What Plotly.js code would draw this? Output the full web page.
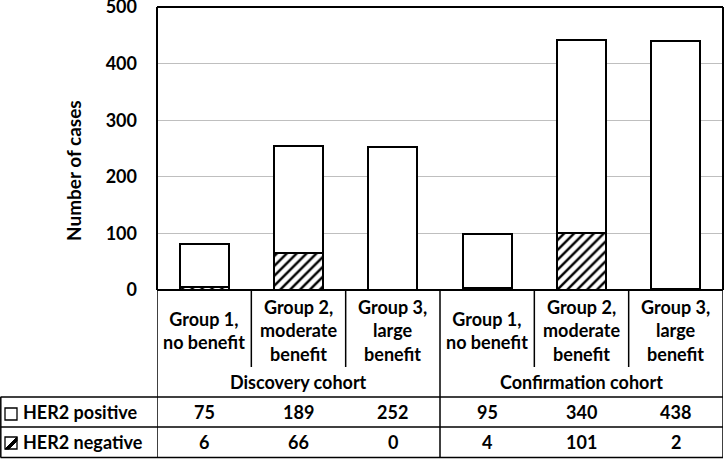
<!DOCTYPE html>
<html>
<head>
<meta charset="utf-8">
<script src="https://cdn.plot.ly/plotly-3.0.1.min.js"></script>
<style>html,body{margin:0;padding:0;background:#fff;}#chart{width:726px;height:459px;}</style>
</head>
<body>
<div id="chart"></div>
<script>
var categories = ["Group 1,<br>no benefit", "Group 2,<br>moderate<br>benefit", "Group 3,<br>large<br>benefit",
                  "Group 1,<br>no benefit", "Group 2,<br>moderate<br>benefit", "Group 3,<br>large<br>benefit"];
var cohorts = ["Discovery cohort", "Confirmation cohort"];
var her2Positive = [75, 189, 252, 95, 340, 438];
var her2Negative = [6, 66, 0, 4, 101, 2];
var seriesNames = ["HER2 positive", "HER2 negative"];
var yTicks = [0, 100, 200, 300, 400, 500];
var yTitle = "Number of cases";

var W = 726, H = 459, L = 157, R = 3, T = 7, B = 169;
var PW = W - L - R, PH = H - T - B;
function px(p) { return (p - L) / PW; }
function py(p) { return (H - B - p) / PH; }

var FONT = "Lato, 'Open Sans', sans-serif";
var idx = categories.map(function (c, i) { return i; });

var traces = [
  {
    type: "bar", name: seriesNames[1], x: idx, y: her2Negative, width: 0.52,
    marker: { color: "white", line: { color: "black", width: 2 },
      pattern: { shape: "/", fgcolor: "black", bgcolor: "white", size: 7, solidity: 0.35 } },
    hoverinfo: "y"
  },
  {
    type: "bar", name: seriesNames[0], x: idx, y: her2Positive, width: 0.52,
    marker: { color: "white", line: { color: "black", width: 2 } },
    hoverinfo: "y"
  }
];

var shapes = [];
function line(x0, y0, x1, y1, xref, w) {
  shapes.push({ type: "line", xref: xref || "paper", yref: "paper", x0: x0, x1: x1, y0: y0, y1: y1,
    line: { color: "black", width: w || 1.5 } });
}
// frame of plot
line(0, 0, 0, 1, "paper", 2); line(0, 1, 1, 1, "paper", 2); line(1, 1, 1, 0, "paper", 2);
// category separators
[0.5, 1.5, 3.5, 4.5].forEach(function (v) { line(v, py(290), v, py(367), "x", 1.5); });
// cohort separators
[-0.5, 2.5, 5.5].forEach(function (v) { line(v, py(290), v, py(457.5), "x", 1.5); });
// horizontal lines
line(0, py(290), 1, py(290), "paper", 2);
[397, 427, 457.5].forEach(function (p) { line(px(0.5), py(p), 1, py(p), "paper", 1.5); });
line(px(0.8), py(397), px(0.8), py(457.5), "paper", 1.5);
// legend icons
shapes.push({ type: "rect", xref: "paper", yref: "paper", x0: px(5), x1: px(17), y0: py(408), y1: py(420),
  line: { color: "black", width: 1.3 }, fillcolor: "white" });
shapes.push({ type: "rect", xref: "paper", yref: "paper", x0: px(5), x1: px(17), y0: py(437), y1: py(449),
  line: { color: "black", width: 1.3 }, fillcolor: "white" });
shapes.push({ type: "path", xref: "paper", yref: "paper",
  path: "M " + px(5) + " " + py(449) + " L " + px(17) + " " + py(437) + " L " + px(17) + " " + py(441) +
        " L " + px(9) + " " + py(449) + " Z",
  line: { color: "black", width: 1 }, fillcolor: "black" });

var annotations = [];
var tf = { family: FONT, size: 18, color: "black", weight: "bold" };
categories.forEach(function (c, i) {
  annotations.push({ x: i, xref: "x", y: py(330), yref: "paper", text: c, showarrow: false,
    font: tf, align: "center", yanchor: "middle" });
  annotations.push({ x: i, xref: "x", y: py(412), yref: "paper", text: String(her2Positive[i]), showarrow: false,
    font: tf, yanchor: "middle" });
  annotations.push({ x: i, xref: "x", y: py(442), yref: "paper", text: String(her2Negative[i]), showarrow: false,
    font: tf, yanchor: "middle" });
});
annotations.push({ x: 1, xref: "x", y: py(382), yref: "paper", text: cohorts[0], showarrow: false, font: tf, yanchor: "middle" });
annotations.push({ x: 4, xref: "x", y: py(382), yref: "paper", text: cohorts[1], showarrow: false, font: tf, yanchor: "middle" });
annotations.push({ x: px(21), xref: "paper", xanchor: "left", y: py(412), yref: "paper", text: seriesNames[0], showarrow: false, font: tf, yanchor: "middle" });
annotations.push({ x: px(21), xref: "paper", xanchor: "left", y: py(442), yref: "paper", text: seriesNames[1], showarrow: false, font: tf, yanchor: "middle" });
annotations.push({ x: px(73), xref: "paper", y: py(171), yref: "paper", text: yTitle, textangle: -90, showarrow: false,
  font: { family: FONT, size: 19, color: "black", weight: "bold" }, xanchor: "center", yanchor: "middle" });

var layout = {
  width: W, height: H,
  margin: { l: L, r: R, t: T, b: B, pad: 0 },
  paper_bgcolor: "white", plot_bgcolor: "white",
  barmode: "stack", showlegend: false,
  font: { family: FONT, size: 18, color: "black" },
  xaxis: { range: [-0.5, 5.5], showticklabels: false, showgrid: false, zeroline: false, showline: false, fixedrange: true },
  yaxis: {
    range: [0, 500], tickvals: yTicks, ticktext: yTicks.map(String),
    showgrid: true, gridcolor: "#bfbfbf", gridwidth: 1.3, zeroline: false, showline: false,
    ticks: "", ticklabelstandoff: 19, ticklabeloverflow: "allow",
    tickfont: { family: FONT, size: 18, color: "black", weight: "bold" },
    automargin: false
  },
  shapes: shapes,
  annotations: annotations
};

Plotly.newPlot("chart", traces, layout, { displayModeBar: false, staticPlot: true });
</script>
</body>
</html>
